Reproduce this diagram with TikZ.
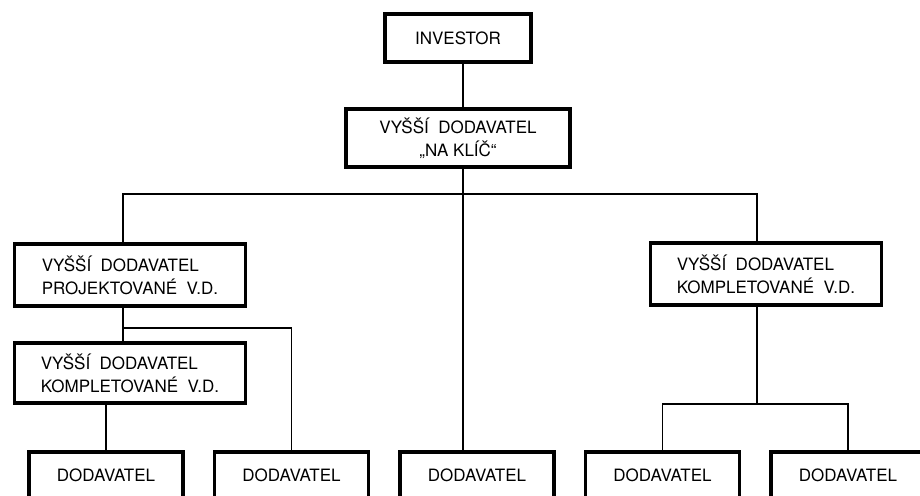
\documentclass[tikz,border=0pt]{standalone}
\usepackage{fontspec}
\setmainfont{TeX Gyre Heros}
\usetikzlibrary{positioning}

\begin{document}
\begin{tikzpicture}[
    x=1pt, y=-1pt,
    font=\fontsize{17}{23}\selectfont,
    headbox/.style={draw, line width=3.5pt, minimum height=48pt},
    upperbox/.style={draw, line width=3.5pt, minimum width=231pt, minimum height=62pt, align=left},
    dodbox/.style={draw, line width=3.5pt, minimum width=154pt, inner ysep=17pt, text depth=10pt},
    link/.style={line width=1.6pt},
]
    \useasboundingbox (0,0) rectangle (920,495);
    \clip (0,0) rectangle (920,495);
    %node
    \node[headbox, minimum width=146pt] (investor) at (458,38) {INVESTOR};
    \node[upperbox, minimum width=224pt, minimum height=58pt, align=center] (naklic) at (458,138) {VYŠŠÍ\ \ DODAVATEL\\„NA KLÍČ“};
    \node[upperbox] (projekt) at (130,275) {VYŠŠÍ\ \ DODAVATEL\\PROJEKTOVANÉ\ \ V.D.};
    \node[upperbox, minimum height=60pt] (kompL) at (130,373) {VYŠŠÍ\ \ DODAVATEL\\KOMPLETOVANÉ\ \ V.D.};
    \node[upperbox] (kompR) at (766,274) {VYŠŠÍ\ \ DODAVATEL\\KOMPLETOVANÉ\ \ V.D.};
    \node[dodbox, anchor=north] (dod1) at (106,450) {DODAVATEL};
    \node[dodbox] (dod2) [right=28pt of dod1] {DODAVATEL};
    \node[dodbox] (dod3) [right=28pt of dod2] {DODAVATEL};
    \node[dodbox] (dod4) [right=28pt of dod3] {DODAVATEL};
    \node[dodbox] (dod5) [right=28pt of dod4] {DODAVATEL};

    %forks
    \coordinate (topfork) at (463,194);
    \coordinate (leftfork) at (123,328);
    \coordinate (rightfork) at (757,404);

    %lines
    \draw[link] (investor.south -| topfork) -- (naklic.north -| topfork);
    \draw[link] (naklic.south -| topfork) -- (dod3.north -| topfork);
    \draw[link] (projekt.north -| leftfork) |- (topfork) -| (kompR.north -| rightfork);
    \draw[link] (projekt.south -| leftfork) -- (kompL.north -| leftfork);
    \draw[link] (leftfork) -| (dod2.north);
    \draw[link] (kompL.south -| dod1.north) -- (dod1.north);
    \draw[link] (kompR.south -| rightfork) -- (rightfork);
    \draw[link] (dod4.north) |- (rightfork) -| (dod5.north);
\end{tikzpicture}
\end{document}
